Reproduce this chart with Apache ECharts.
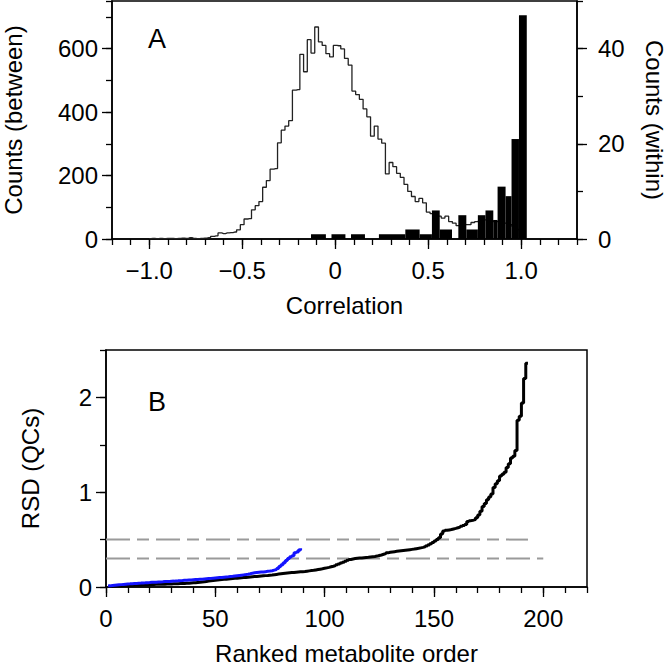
<!DOCTYPE html>
<html><head><meta charset="utf-8">
<script src="https://cdn.jsdelivr.net/npm/echarts@6/dist/echarts.min.js"></script>
<style>html,body{margin:0;padding:0;background:#fff}#c{width:666px;height:666px}</style>
</head><body><div id="c"></div>
<script>
// ---------- Panel A: correlation histograms ----------
const betweenBins = [-1.00,-0.98,-0.96,-0.94,-0.92,-0.90,-0.88,-0.86,-0.84,-0.82,-0.80,-0.78,-0.76,-0.74,-0.72,-0.70,-0.68,-0.66,-0.64,-0.62,-0.60,-0.58,-0.56,-0.54,-0.52,-0.50,-0.48,-0.46,-0.44,-0.42,-0.40,-0.38,-0.36,-0.34,-0.32,-0.30,-0.28,-0.26,-0.24,-0.22,-0.20,-0.18,-0.16,-0.14,-0.12,-0.10,-0.08,-0.06,-0.04,-0.02,0.00,0.02,0.04,0.06,0.08,0.10,0.12,0.14,0.16,0.18,0.20,0.22,0.24,0.26,0.28,0.30,0.32,0.34,0.36,0.38,0.40,0.42,0.44,0.46,0.48,0.50,0.52,0.54,0.56,0.58,0.60,0.62,0.64,0.66,0.68,0.70,0.72,0.74,0.76,0.78,0.80,0.82,0.84,0.86,0.88,0.90,0.92,0.94,0.96,0.98,1.00,1.02];
const betweenCounts = [1,2,1,2,1,2,2,1,2,3,2,4,2,1,2,3,4,8,10,19,17,19,20,22,29,45,63,64,92,105,118,163,184,220,222,303,343,356,373,469,471,582,527,628,586,668,621,610,584,574,610,609,599,569,548,466,455,440,410,385,324,356,315,302,205,241,228,207,194,172,150,134,118,128,114,85,80,71,72,66,72,55,50,42,40,45,45,52,55,58,60,60,58,55,55,50,50,45,40,30,10,0];
const withinStart  = [-0.13,-0.02,0.085,0.235,0.377,0.454,0.52,0.562,0.662,0.705,0.767,0.808,0.85,0.873,0.916,0.948,0.988];
const withinEnd    = [-0.05,0.055,0.16,0.377,0.454,0.52,0.562,0.628,0.705,0.767,0.808,0.85,0.873,0.916,0.948,0.988,1.03];
const withinCounts = [1,1,1,1,2,1,6,2,5,2,5,6,4,11,9,21,47];
const corrTickLabels = [-1, -0.5, 0, 0.5, 1];
const betweenTickLabels = [0, 200, 400, 600];
const withinTickLabels = [0, 20, 40];

// ---------- Panel B: ranked RSD ----------
const rsdAll = [
0.005,0.008,0.010,0.012,0.013,0.014,0.015,0.016,0.017,0.018,
0.019,0.020,0.021,0.022,0.022,0.023,0.024,0.025,0.025,0.026,
0.027,0.028,0.028,0.029,0.030,0.030,0.031,0.032,0.032,0.033,
0.034,0.035,0.036,0.037,0.038,0.039,0.040,0.042,0.044,0.046,
0.048,0.050,0.053,0.056,0.059,0.062,0.065,0.068,0.071,0.074,
0.077,0.079,0.081,0.083,0.085,0.087,0.089,0.091,0.093,0.095,
0.097,0.099,0.101,0.103,0.106,0.108,0.110,0.112,0.114,0.116,
0.118,0.120,0.122,0.125,0.127,0.130,0.133,0.136,0.139,0.142,
0.145,0.148,0.150,0.152,0.154,0.156,0.158,0.160,0.162,0.164,
0.167,0.170,0.173,0.176,0.180,0.184,0.188,0.192,0.197,0.202,
0.207,0.213,0.219,0.226,0.234,0.243,0.252,0.262,0.272,0.282,
0.290,0.296,0.300,0.303,0.305,0.307,0.309,0.311,0.313,0.316,
0.319,0.322,0.326,0.332,0.338,0.345,0.352,0.360,0.366,0.370,
0.373,0.376,0.379,0.382,0.385,0.388,0.391,0.394,0.397,0.400,
0.404,0.408,0.413,0.418,0.424,0.432,0.442,0.455,0.470,0.485,
0.500,0.520,0.560,0.590,0.598,0.602,0.606,0.612,0.618,0.625,
0.632,0.640,0.650,0.660,0.690,0.700,0.705,0.712,0.730,0.760,
0.800,0.850,0.880,0.920,0.950,0.980,1.050,1.090,1.120,1.170,
1.190,1.210,1.260,1.300,1.360,1.380,1.440,1.760,1.800,1.940,
2.200,2.360,2.360];
const rsdQC = [
0.012,0.016,0.019,0.021,0.023,0.025,0.027,0.029,0.031,0.033,
0.034,0.036,0.038,0.040,0.041,0.043,0.044,0.046,0.047,0.049,
0.050,0.051,0.053,0.054,0.055,0.057,0.058,0.059,0.061,0.062,
0.064,0.065,0.067,0.068,0.070,0.071,0.073,0.074,0.076,0.078,
0.079,0.081,0.083,0.085,0.087,0.089,0.091,0.093,0.095,0.097,
0.099,0.101,0.104,0.106,0.108,0.111,0.113,0.116,0.119,0.122,
0.125,0.128,0.131,0.135,0.140,0.146,0.150,0.153,0.155,0.157,
0.159,0.162,0.165,0.168,0.172,0.178,0.184,0.195,0.215,0.235,
0.255,0.280,0.300,0.320,0.330,0.360,0.370,0.390,0.410];
const thresholdLevels = [0.5, 0.3];
const thresholdEnds = [193, 200];
const rankTickLabels = [0, 50, 100, 150, 200];
const rsdTickLabels = [0, 1, 2];

const FONT = 'Liberation Sans';
const FS = 24;
const axisLine = {show: true, onZero: false, lineStyle: {color: '#000', width: 1.5}};
const minorTick = {show: true, inside: false, length: 6, lineStyle: {color: '#000', width: 1.3}};
const fmtCorr = v => v === 0 ? '0' : (v < 0 ? '\u2212' : '') + Math.abs(v).toFixed(1);

function minorAxis(extra) {
  return Object.assign({type: 'value', axisLine: axisLine, axisTick: minorTick,
    axisLabel: {show: false}, splitLine: {show: false}}, extra);
}
function majorAxis(extra, vals, fmt, margin) {
  return Object.assign({type: 'value', axisLine: {show: false, onZero: false},
    axisTick: {show: true, customValues: vals, length: 10, lineStyle: {color: '#000', width: 1.3}},
    axisLabel: {show: true, customValues: vals, formatter: fmt || (v => String(v)), color: '#000',
      fontFamily: FONT, fontSize: FS, margin: margin},
    splitLine: {show: false},
    nameTextStyle: {fontFamily: FONT, fontSize: FS, color: '#000'}}, extra);
}

const chart = echarts.init(document.getElementById('c'), null, {renderer: 'svg'});
chart.setOption({
  animation: false,
  backgroundColor: '#fff',
  title: [
    {text: 'A', left: 143, top: 20, textStyle: {fontFamily: FONT, fontSize: 27, fontWeight: 'normal', color: '#000'}},
    {text: 'B', left: 143, top: 383, textStyle: {fontFamily: FONT, fontSize: 27, fontWeight: 'normal', color: '#000'}}
  ],
  grid: [
    {left: 112, top: 1, width: 465, height: 238, show: true, borderColor: '#000', borderWidth: 1.5,
     backgroundColor: 'transparent', containLabel: false, outerBoundsMode: 'none'},
    {left: 106, top: 350, width: 481, height: 237, show: true, borderColor: '#000', borderWidth: 1.5,
     backgroundColor: 'transparent', containLabel: false, outerBoundsMode: 'none'}
  ],
  xAxis: [
    minorAxis({gridIndex: 0, min: -1.2, max: 1.3, interval: 0.1, position: 'bottom'}),
    majorAxis({gridIndex: 0, min: -1.2, max: 1.3, position: 'bottom', name: 'Correlation', nameLocation: 'middle', nameGap: 54}, corrTickLabels, fmtCorr, 19),
    minorAxis({gridIndex: 1, min: 0, max: 220, interval: 10, position: 'bottom'}),
    majorAxis({gridIndex: 1, min: 0, max: 220, position: 'bottom', name: 'Ranked metabolite order', nameLocation: 'middle', nameGap: 54}, rankTickLabels, null, 19)
  ],
  yAxis: [
    minorAxis({gridIndex: 0, min: 0, max: 750, interval: 100, position: 'left'}),
    majorAxis({gridIndex: 0, min: 0, max: 750, position: 'left', name: 'Counts (between)', nameLocation: 'middle', nameGap: 87, nameRotate: 90}, betweenTickLabels, null, 14),
    minorAxis({gridIndex: 0, min: 0, max: 50, interval: 10, position: 'right'}),
    majorAxis({gridIndex: 0, min: 0, max: 50, position: 'right', name: 'Counts (within)', nameLocation: 'middle', nameGap: 65, nameRotate: -90}, withinTickLabels, null, 21),
    minorAxis({gridIndex: 1, min: 0, max: 2.5, interval: 0.5, position: 'left'}),
    majorAxis({gridIndex: 1, min: 0, max: 2.5, position: 'left', name: 'RSD (QCs)', nameLocation: 'middle', nameGap: 64, nameRotate: 90}, rsdTickLabels, null, 14)
  ],
  series: [
    {type: 'line', xAxisIndex: 0, yAxisIndex: 0, step: 'middle', symbol: 'none',
     lineStyle: {color: '#222', width: 1.3}, data: betweenBins.map((b, i) => [b, betweenCounts[i]]), z: 2},
    {type: 'custom', xAxisIndex: 0, yAxisIndex: 2, z: 3,
     data: withinStart.map((s, i) => [s, withinEnd[i], withinCounts[i]]),
     encode: {x: [0, 1], y: 2},
     renderItem: function (params, api) {
       const p0 = api.coord([api.value(0), api.value(2)]);
       const p1 = api.coord([api.value(1), 0]);
       return {type: 'rect', shape: {x: p0[0], y: p0[1], width: p1[0] - p0[0], height: p1[1] - p0[1]}, style: {fill: '#000'}};
     }},
    ...thresholdLevels.map((t, i) => ({type: 'line', xAxisIndex: 2, yAxisIndex: 4, symbol: 'none', silent: true,
      lineStyle: {color: '#9a9a9a', width: 2, type: [24, 7, 12, 7]}, data: [[0, t], [thresholdEnds[i], t]], z: 1})),
    {type: 'line', xAxisIndex: 2, yAxisIndex: 4, step: 'end', symbol: 'none',
     lineStyle: {color: '#000', width: 3}, data: rsdAll.map((v, i) => [i + 1, v]), z: 2},
    {type: 'line', xAxisIndex: 2, yAxisIndex: 4, step: 'end', symbol: 'none',
     lineStyle: {color: '#1414ff', width: 3}, data: rsdQC.map((v, i) => [i + 1, v]), z: 3}
  ]
});
</script>
</body></html>
